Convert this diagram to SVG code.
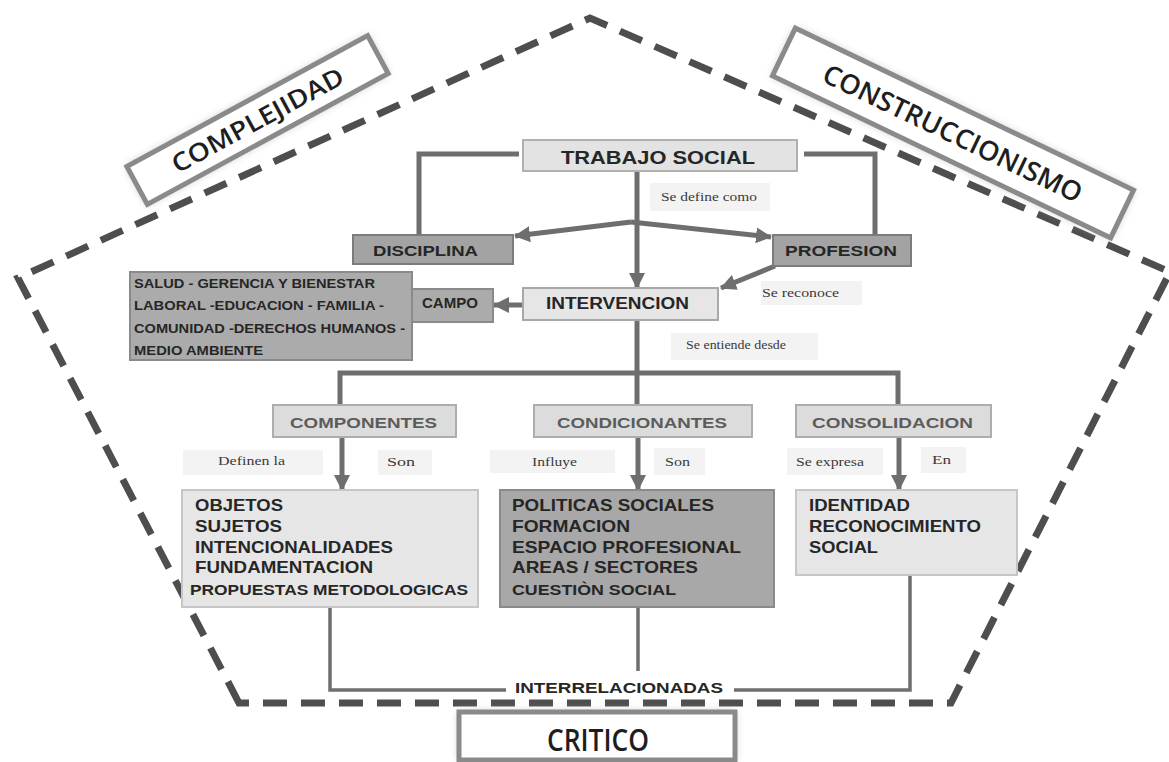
<svg xmlns="http://www.w3.org/2000/svg" width="1169" height="762" viewBox="0 0 1169 762">
<defs>
<style>
.dash{fill:none;stroke:#4e4e4e;stroke-width:7;stroke-dasharray:24 14;stroke-linejoin:miter}
.ln{fill:none;stroke:#6e6e6e;stroke-width:5}
.ln2{fill:none;stroke:#6e6e6e;stroke-width:3.5}
.arr{marker-end:url(#ah)}
.b{font-family:"Liberation Sans",Arial,sans-serif;font-weight:bold;fill:#262626}
.g{font-family:"Liberation Sans",Arial,sans-serif;font-weight:bold;fill:#5c5c5c}
.s{font-family:"Liberation Serif","Times New Roman",serif;font-size:13px;fill:#3a3a3a}
.c{font-family:"Open Sans","Noto Sans",sans-serif;font-weight:600;fill:#1e1e1e}
.lb{fill:#f3f3f3}
.tag{fill:#fff;stroke:#8a8a8a;stroke-width:5}
</style>
<marker id="ah" markerUnits="userSpaceOnUse" markerWidth="18" markerHeight="16" refX="15" refY="8" orient="auto">
<path d="M0,0 L16,8 L0,16 z" fill="#6e6e6e"/>
</marker>
<filter id="blur" x="-20%" y="-50%" width="140%" height="200%"><feGaussianBlur stdDeviation="4"/></filter>
</defs>

<g id="pentagon">
<path class="dash" d="M239,703 L18,278 L590,18 L1170,272 L951,703 Z"/>
</g>

<g id="complejidad" transform="translate(257.5,120) rotate(-28.5)">
<rect x="-137" y="-21.5" width="274" height="43" fill="#bbb" filter="url(#blur)"/>
<rect class="tag" x="-137" y="-21.5" width="274" height="43"/>
<text class="c" x="0" y="9" font-size="25" text-anchor="middle" textLength="192" lengthAdjust="spacingAndGlyphs">COMPLEJIDAD</text>
</g>

<g id="construccionismo" transform="translate(953,133) rotate(25.6)">
<rect x="-187.5" y="-26.5" width="375" height="53" fill="#bbb" filter="url(#blur)"/>
<rect class="tag" x="-187.5" y="-26.5" width="375" height="53"/>
<text class="c" x="0" y="10" font-size="27" text-anchor="middle" textLength="284" lengthAdjust="spacingAndGlyphs">CONSTRUCCIONISMO</text>
</g>

<g id="critico">
<rect x="459" y="712" width="276" height="48" fill="#bbb" filter="url(#blur)"/>
<rect class="tag" x="459" y="712" width="276" height="48"/>
<text class="c" x="598" y="751" font-size="30" text-anchor="middle" textLength="102" lengthAdjust="spacingAndGlyphs">CRITICO</text>
</g>

<g id="connectors">
<path class="ln" d="M519,154 H419 V235"/>
<path class="ln" d="M804,154 H875 V235"/>
<path class="ln arr" d="M637,170 V288"/>
<path class="ln arr" d="M631,222 L515,236"/>
<path class="ln arr" d="M631,222 L771,237"/>
<path class="ln arr" d="M775,266 L721,288"/>
<path class="ln arr" d="M523,305 H494"/>
<path class="ln" d="M637,320 V405"/>
<path class="ln" d="M340,405 V373 H898 V405"/>
<path class="ln arr" d="M342,437 V490"/>
<path class="ln arr" d="M638,437 V490"/>
<path class="ln arr" d="M899,437 V490"/>
<path class="ln2" d="M330,607 V690 H910 V575"/>
<path class="ln2" d="M638,607 V671"/>
</g>

<g id="labels">
<rect class="lb" x="650" y="183" width="120" height="28"/>
<text class="s" x="661" y="201" textLength="96" lengthAdjust="spacingAndGlyphs">Se define como</text>
<rect class="lb" x="761" y="281" width="101" height="24"/>
<text class="s" x="762" y="297" textLength="77" lengthAdjust="spacingAndGlyphs">Se reconoce</text>
<rect class="lb" x="671" y="333" width="147" height="27"/>
<text class="s" x="686" y="349" textLength="100" lengthAdjust="spacingAndGlyphs">Se entiende desde</text>
<rect class="lb" x="183" y="450" width="140" height="25"/>
<text class="s" x="218" y="465" textLength="67" lengthAdjust="spacingAndGlyphs">Definen la</text>
<rect class="lb" x="378" y="450" width="54" height="25"/>
<text class="s" x="387" y="466" textLength="28" lengthAdjust="spacingAndGlyphs">Son</text>
<rect class="lb" x="490" y="450" width="125" height="23"/>
<text class="s" x="532" y="466" textLength="45" lengthAdjust="spacingAndGlyphs">Influye</text>
<rect class="lb" x="654" y="448" width="51" height="27"/>
<text class="s" x="665" y="466" textLength="25" lengthAdjust="spacingAndGlyphs">Son</text>
<rect class="lb" x="787" y="448" width="96" height="27"/>
<text class="s" x="796" y="466" textLength="68" lengthAdjust="spacingAndGlyphs">Se expresa</text>
<rect class="lb" x="921" y="447" width="45" height="26"/>
<text class="s" x="932" y="464" textLength="19" lengthAdjust="spacingAndGlyphs">En</text>
<rect x="506" y="678" width="228" height="20" fill="#fff"/>
<text class="b" x="515" y="693" font-size="15" textLength="208" lengthAdjust="spacingAndGlyphs">INTERRELACIONADAS</text>
</g>

<g id="trabajo-social">
<rect x="523" y="140" width="274" height="31" fill="#e3e3e3" stroke="#b0b0b0" stroke-width="2"/>
<text class="b" x="561" y="163.5" font-size="18" fill="#333" textLength="194" lengthAdjust="spacingAndGlyphs">TRABAJO SOCIAL</text>
</g>

<g id="disciplina">
<rect x="353" y="235" width="160" height="29" fill="#a3a3a3" stroke="#7c7c7c" stroke-width="2"/>
<text class="b" x="373" y="255.5" font-size="15" textLength="105" lengthAdjust="spacingAndGlyphs">DISCIPLINA</text>
</g>

<g id="profesion">
<rect x="773" y="235" width="138" height="31" fill="#a3a3a3" stroke="#7c7c7c" stroke-width="2"/>
<text class="b" x="785" y="256" font-size="15" textLength="112" lengthAdjust="spacingAndGlyphs">PROFESION</text>
</g>

<g id="intervencion">
<rect x="523" y="288" width="195" height="32" fill="#e6e6e6" stroke="#a8a8a8" stroke-width="2"/>
<text class="b" x="546" y="309" font-size="16" fill="#2e2e2e" textLength="143" lengthAdjust="spacingAndGlyphs">INTERVENCION</text>
</g>

<g id="campo">
<rect x="412" y="289" width="81" height="33" fill="#ababab" stroke="#8a8a8a" stroke-width="2"/>
<text class="b" x="422" y="308" font-size="14" textLength="56" lengthAdjust="spacingAndGlyphs">CAMPO</text>
</g>

<g id="salud">
<rect x="130" y="272" width="282" height="88" fill="#ababab" stroke="#8a8a8a" stroke-width="2"/>
<text class="b" x="134" y="288" font-size="13.5" textLength="241" lengthAdjust="spacingAndGlyphs">SALUD - GERENCIA Y BIENESTAR</text>
<text class="b" x="134" y="310" font-size="13.5" textLength="250" lengthAdjust="spacingAndGlyphs">LABORAL -EDUCACION - FAMILIA -</text>
<text class="b" x="134" y="333" font-size="13.5" textLength="271" lengthAdjust="spacingAndGlyphs">COMUNIDAD -DERECHOS HUMANOS -</text>
<text class="b" x="134" y="355" font-size="13.5" textLength="129" lengthAdjust="spacingAndGlyphs">MEDIO AMBIENTE</text>
</g>

<g id="componentes">
<rect x="273" y="405" width="183" height="32" fill="#dcdcdc" stroke="#adadad" stroke-width="2"/>
<text class="g" x="290" y="427.5" font-size="15" textLength="147" lengthAdjust="spacingAndGlyphs">COMPONENTES</text>
</g>

<g id="condicionantes">
<rect x="534" y="405" width="218" height="32" fill="#dcdcdc" stroke="#adadad" stroke-width="2"/>
<text class="g" x="557" y="427.5" font-size="15" textLength="170" lengthAdjust="spacingAndGlyphs">CONDICIONANTES</text>
</g>

<g id="consolidacion">
<rect x="796" y="405" width="195" height="32" fill="#dcdcdc" stroke="#adadad" stroke-width="2"/>
<text class="g" x="812" y="427.5" font-size="15" textLength="161" lengthAdjust="spacingAndGlyphs">CONSOLIDACION</text>
</g>

<g id="objetos">
<rect x="182" y="490" width="296" height="117" fill="#e6e6e6" stroke="#c6c6c6" stroke-width="2"/>
<text class="b" x="195" y="511" font-size="16.5" textLength="88" lengthAdjust="spacingAndGlyphs">OBJETOS</text>
<text class="b" x="195" y="532" font-size="16.5" textLength="87" lengthAdjust="spacingAndGlyphs">SUJETOS</text>
<text class="b" x="195" y="553" font-size="16.5" textLength="198" lengthAdjust="spacingAndGlyphs">INTENCIONALIDADES</text>
<text class="b" x="195" y="573" font-size="16.5" textLength="178" lengthAdjust="spacingAndGlyphs">FUNDAMENTACION</text>
<text class="b" x="190" y="595" font-size="14" textLength="278" lengthAdjust="spacingAndGlyphs">PROPUESTAS METODOLOGICAS</text>
</g>

<g id="politicas">
<rect x="500" y="490" width="274" height="117" fill="#a8a8a8" stroke="#8a8a8a" stroke-width="2"/>
<text class="b" x="512" y="511" font-size="16.5" textLength="202" lengthAdjust="spacingAndGlyphs">POLITICAS SOCIALES</text>
<text class="b" x="512" y="532" font-size="16.5" textLength="118" lengthAdjust="spacingAndGlyphs">FORMACION</text>
<text class="b" x="512" y="553" font-size="16.5" textLength="229" lengthAdjust="spacingAndGlyphs">ESPACIO  PROFESIONAL</text>
<text class="b" x="512" y="573" font-size="16.5" textLength="186" lengthAdjust="spacingAndGlyphs">AREAS / SECTORES</text>
<text class="b" x="512" y="595" font-size="14" textLength="164" lengthAdjust="spacingAndGlyphs">CUESTIÒN SOCIAL</text>
</g>

<g id="identidad">
<rect x="796" y="490" width="221" height="85" fill="#e6e6e6" stroke="#c6c6c6" stroke-width="2"/>
<text class="b" x="809" y="511" font-size="16.5" textLength="101" lengthAdjust="spacingAndGlyphs">IDENTIDAD</text>
<text class="b" x="809" y="532" font-size="16.5" textLength="172" lengthAdjust="spacingAndGlyphs">RECONOCIMIENTO</text>
<text class="b" x="809" y="553" font-size="16.5" textLength="69" lengthAdjust="spacingAndGlyphs">SOCIAL</text>
</g>
</svg>
